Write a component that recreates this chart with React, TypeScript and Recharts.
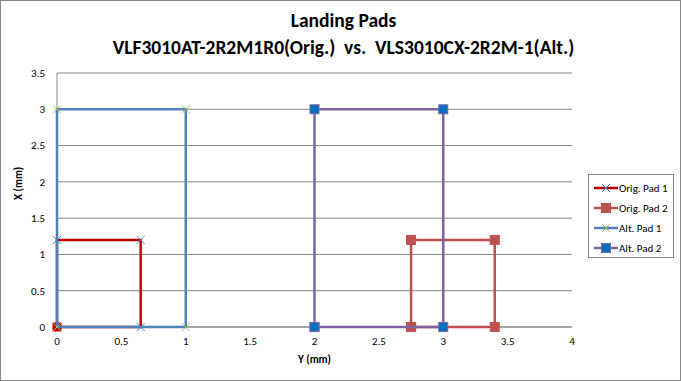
import React from "react";
import {
  ScatterChart,
  Scatter,
  XAxis,
  YAxis,
  CartesianGrid,
} from "recharts";

// pad outlines, in mm (x axis = Y (mm), y axis = X (mm))
const origPad1X = [0, 0, 0.65, 0.65, 0];
const origPad1Y = [0, 1.2, 1.2, 0, 0];
const origPad2X = [2.75, 2.75, 3.4, 3.4, 2.75];
const origPad2Y = [0, 1.2, 1.2, 0, 0];
const altPad1X = [0, 0, 1, 1, 0];
const altPad1Y = [0, 3, 3, 0, 0];
const altPad2X = [2, 2, 3, 3, 2];
const altPad2Y = [0, 3, 3, 0, 0];

const xTicks = [0, 0.5, 1, 1.5, 2, 2.5, 3, 3.5, 4];
const yTicks = [0, 0.5, 1, 1.5, 2, 2.5, 3, 3.5];

const toPoints = (xs: number[], ys: number[]) =>
  xs.map((x, i) => ({ x, y: ys[i], i }));

const FONT = "Carlito, Calibri, 'Open Sans', sans-serif";
const GRID = "#868686";

type Series = {
  name: string;
  line: string;
  marker: "x" | "square";
  markerFill: string;
  markerStroke: string;
  data: { x: number; y: number; i: number }[];
};

const series: Series[] = [
  { name: "Orig. Pad 1", line: "#C00000", marker: "x", markerFill: "none", markerStroke: "#4F81BD", data: toPoints(origPad1X, origPad1Y) },
  { name: "Orig. Pad 2", line: "#C0504D", marker: "square", markerFill: "#C0504D", markerStroke: "#C0504D", data: toPoints(origPad2X, origPad2Y) },
  { name: "Alt. Pad 1", line: "#4F81BD", marker: "x", markerFill: "none", markerStroke: "#9BBB59", data: toPoints(altPad1X, altPad1Y) },
  { name: "Alt. Pad 2", line: "#8064A2", marker: "square", markerFill: "#0070C0", markerStroke: "#8064A2", data: toPoints(altPad2X, altPad2Y) },
];

function Marker({ s, cx, cy, first }: { s: Series; cx: number; cy: number; first?: boolean }) {
  if (s.marker === "square") {
    return <rect x={cx - 4.5} y={cy - 4.5} width={9} height={9} fill={s.markerFill} stroke={s.markerStroke} strokeWidth={1} />;
  }
  return (
    <g>
      {first && <rect x={cx - 4.5} y={cy - 4.5} width={9} height={9} fill="#C00000" />}
      <path d={`M${cx - 4},${cy - 4}L${cx + 4},${cy + 4}M${cx - 4},${cy + 4}L${cx + 4},${cy - 4}`} stroke={s.markerStroke} strokeWidth={1} />
    </g>
  );
}

function makeShape(s: Series, special: boolean) {
  return (props: any) => (
    <Marker s={s} cx={props.cx} cy={props.cy} first={special && props.payload && props.payload.i === 0} />
  );
}

export default function App() {
  return (
    <div
      style={{
        position: "absolute",
        left: 0,
        top: 0,
        width: 681,
        height: 381,
        border: "1px solid #868686",
        boxSizing: "border-box",
        background: "#fff",
        fontFamily: FONT,
      }}
    >
      <div style={{ position: "absolute", left: 0, width: 681, top: 6, textAlign: "center", fontWeight: "bold", fontSize: 19.5, lineHeight: "27px", color: "#000" }}>
        <div style={{ marginLeft: 4 }}>Landing Pads</div>
        <div style={{ marginLeft: 4, whiteSpace: "pre" }}>{"VLF3010AT-2R2M1R0(Orig.)  vs.  VLS3010CX-2R2M-1(Alt.)"}</div>
      </div>
      <div style={{ position: "absolute", left: -1, top: -1 }}>
        <ScatterChart width={681} height={381} margin={{ top: 73, right: 109, bottom: 0, left: 12 }}>
          <CartesianGrid vertical={false} stroke={GRID} strokeWidth={1} />
          <XAxis
            type="number"
            dataKey="x"
            domain={[0, 4]}
            ticks={xTicks}
            height={54}
            tickLine={false}
            axisLine={{ stroke: GRID }}
            tick={{ fontSize: 11, fill: "#000", fontFamily: FONT }}
            tickMargin={4}
            label={{ value: "Y (mm)", position: "insideBottom", offset: 18, fontSize: 11, fontWeight: "bold", fill: "#000", fontFamily: FONT }}
          />
          <YAxis
            type="number"
            dataKey="y"
            domain={[0, 3.5]}
            ticks={yTicks}
            width={45}
            tickLine={false}
            axisLine={{ stroke: GRID }}
            tick={{ fontSize: 11, fill: "#000", fontFamily: FONT }}
            tickMargin={6}
            label={{ value: "X (mm)", angle: -90, position: "insideLeft", offset: 6, fontSize: 11, fontWeight: "bold", fill: "#000", fontFamily: FONT }}
          />
          {series.map((s, k) => (
            <Scatter
              key={s.name}
              name={s.name}
              data={s.data}
              fill={s.markerFill}
              line={{ stroke: s.line, strokeWidth: 2.5 }}
              lineType="joint"
              shape={makeShape(s, k === 0)}
              isAnimationActive={false}
            />
          ))}
        </ScatterChart>
      </div>
      <div
        style={{
          position: "absolute",
          left: 587,
          top: 173,
          width: 86,
          height: 84,
          border: "1px solid #868686",
          boxSizing: "border-box",
          padding: "3px 0 0 5px",
        }}
      >
        {series.map((s) => (
          <div key={s.name} style={{ display: "flex", alignItems: "center", height: 20, fontSize: 11, color: "#000" }}>
            <svg width={24} height={12}>
              <line x1={0} y1={6} x2={24} y2={6} stroke={s.line} strokeWidth={2.5} />
              <Marker s={s} cx={12} cy={6} />
            </svg>
            <span style={{ marginLeft: 1 }}>{s.name}</span>
          </div>
        ))}
      </div>
    </div>
  );
}
